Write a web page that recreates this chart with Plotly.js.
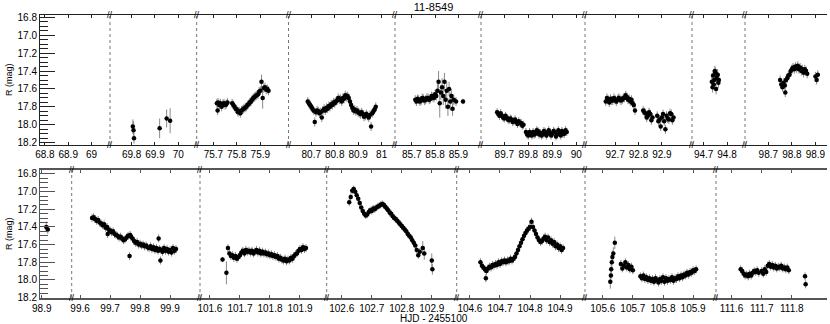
<!DOCTYPE html>
<html>
<head>
<meta charset="utf-8">
<script src="https://cdn.plot.ly/plotly-3.0.1.min.js"></script>
<style>
  html, body { margin: 0; padding: 0; background: #fff; }
  #chart { width: 830px; height: 324px; }
</style>
</head>
<body>
<div id="chart"></div>
<script>
// Light curve of 11-8549, R magnitude vs HJD - 2455100, broken time axis.
// Points are [t, mag] or [t, mag, err]; err falls back to the segment default.

// ---- top panel data ----
const s69 = [[69.805,18.02,0.08],[69.808,18.06,0.1],[69.81,18.15,0.06],[69.92,18.04,0.11],[69.95,17.93,0.1],[69.965,17.955,0.14]];
const s75 = [[75.715,17.76],[75.718,17.84],[75.72,17.75],[75.725,17.78],[75.73,17.76],[75.735,17.80],[75.74,17.77],[75.745,17.76],[75.75,17.78],[75.755,17.77],[75.76,17.75],
  [75.78,17.76],[75.785,17.78],[75.79,17.80],[75.795,17.82],[75.80,17.83],[75.805,17.86],[75.81,17.85],[75.815,17.87],[75.82,17.84],[75.825,17.83],[75.83,17.82],[75.835,17.81],[75.84,17.80],[75.845,17.78],
  [75.85,17.77],[75.855,17.75],[75.86,17.74],[75.865,17.72],[75.87,17.70],[75.875,17.69],[75.88,17.68],[75.885,17.67],[75.89,17.66],[75.895,17.63],[75.90,17.62],[75.905,17.52,0.08],[75.91,17.70,0.12],[75.915,17.59],[75.92,17.58],[75.925,17.61],[75.93,17.60],[75.935,17.62]];
const s80 = [[80.685,17.74],[80.69,17.76],[80.695,17.78],[80.70,17.80],[80.705,17.82],[80.71,17.84],[80.715,17.97],[80.72,17.86],[80.725,17.84],[80.73,17.85],[80.735,17.87],[80.74,17.86],[80.745,17.92],[80.75,17.84],[80.755,17.82],
  [80.76,17.84],[80.765,17.81],[80.77,17.82],[80.775,17.79],[80.78,17.80],[80.785,17.77],[80.79,17.78],[80.795,17.75],[80.80,17.76],[80.805,17.74],[80.81,17.73],[80.815,17.70],[80.82,17.72],[80.825,17.71],[80.83,17.74],
  [80.835,17.70],[80.84,17.71],[80.845,17.67],[80.85,17.69],[80.855,17.68],[80.86,17.70],[80.865,17.74],[80.87,17.78],[80.875,17.81],[80.88,17.84],[80.885,17.83],[80.89,17.85],[80.895,17.84],[80.90,17.86],
  [80.905,17.87],[80.91,17.88],[80.915,17.86],[80.92,17.88],[80.925,17.91],[80.93,17.90],[80.935,17.88],[80.94,17.90],[80.945,17.92],[80.95,17.89],[80.955,18.02],[80.96,17.87],[80.965,17.85],[80.97,17.83],[80.975,17.80]];
const s85 = [[85.715,17.72],[85.72,17.74],[85.725,17.71],[85.73,17.72],[85.735,17.74],[85.74,17.73],[85.745,17.70],[85.75,17.71],[85.755,17.73],[85.76,17.72],[85.765,17.70],[85.77,17.70],[85.775,17.72],[85.78,17.71],[85.785,17.68],
  [85.79,17.69],[85.795,17.70],[85.80,17.66],[85.805,17.68],[85.81,17.62,0.08],[85.815,17.52,0.12],[85.82,17.76,0.16],[85.825,17.64,0.08],[85.83,17.58,0.1],[85.835,17.68,0.1],[85.84,17.52,0.1],[85.845,17.72,0.1],
  [85.85,17.62,0.1],[85.855,17.80,0.1],[85.86,17.60,0.08],[85.865,17.74,0.1],[85.87,17.68,0.08],[85.875,17.82,0.08],[85.88,17.72,0.06],[85.89,17.74,0.05],[85.92,17.74,0.03]];
const s89 = [[89.67,17.86],[89.675,17.88],[89.68,17.90],[89.685,17.87],[89.69,17.90],[89.695,17.92],[89.70,17.93],[89.705,17.90],[89.71,17.92],[89.715,17.94],[89.72,17.95],[89.725,17.93],[89.73,17.94],[89.735,17.97],
  [89.74,17.96],[89.745,17.94],[89.75,17.97],[89.755,17.99],[89.76,17.96],[89.765,17.98],[89.77,17.98],[89.775,18.01],[89.78,18.00],[89.79,18.08],[89.795,18.11],[89.80,18.12],[89.805,18.08],[89.81,18.10],[89.815,18.12],
  [89.82,18.08],[89.825,18.11],[89.83,18.10],[89.835,18.06],[89.84,18.07],[89.845,18.11],[89.85,18.09],[89.855,18.12],[89.86,18.11],[89.865,18.07],[89.87,18.08],[89.875,18.12],[89.88,18.10],[89.885,18.06],
  [89.89,18.09],[89.895,18.12],[89.90,18.10],[89.905,18.07],[89.91,18.08],[89.915,18.13],[89.92,18.11],[89.925,18.06],[89.93,18.09],[89.935,18.12],[89.94,18.07],[89.945,18.10],[89.95,18.10],[89.955,18.06],[89.96,18.08]];
const s92 = [[92.66,17.74],[92.665,17.70],[92.67,17.72],[92.675,17.75],[92.68,17.71],[92.685,17.73],[92.69,17.73],[92.695,17.70],[92.70,17.72],[92.705,17.74],[92.71,17.72],[92.715,17.70],[92.72,17.71],[92.725,17.73],
  [92.73,17.72],[92.735,17.70],[92.74,17.70],[92.745,17.67],[92.75,17.69],[92.755,17.72],[92.76,17.71],[92.765,17.74],[92.77,17.72],[92.775,17.76],[92.78,17.78],[92.785,17.84],
  [92.82,17.84],[92.825,17.86],[92.83,17.87],[92.835,17.92],[92.84,17.90],[92.845,17.86],[92.85,17.88],[92.855,17.95],[92.86,17.92],
  [92.88,17.90],[92.885,17.96],[92.89,17.94],[92.895,18.02],[92.90,17.92],[92.905,17.88],[92.91,17.96],[92.915,18.05],[92.92,17.90],[92.925,17.93],[92.93,17.94],[92.935,17.87],[92.94,17.88],[92.945,17.95],[92.95,17.92]];
const s94 = [[94.735,17.52],[94.738,17.58],[94.74,17.45],[94.743,17.55],[94.745,17.50],[94.748,17.40],[94.75,17.42],[94.753,17.60],[94.755,17.48],[94.758,17.44],[94.76,17.44],[94.763,17.53],[94.765,17.50]];
const s98 = [[98.75,17.50],[98.755,17.55],[98.76,17.58],[98.765,17.53],[98.77,17.56],[98.772,17.64],[98.775,17.50],[98.78,17.48],[98.785,17.45],[98.79,17.44],[98.795,17.40],[98.80,17.38],[98.805,17.36],
  [98.81,17.38],[98.815,17.35],[98.82,17.37],[98.825,17.34],[98.83,17.38],[98.835,17.36],[98.84,17.40],[98.845,17.38],[98.85,17.42],[98.855,17.38],[98.86,17.40],[98.865,17.43],[98.90,17.46],[98.905,17.50],[98.91,17.44]];

// ---- bottom panel data ----
const b98 = [[98.915,17.40,0.06],[98.92,17.43,0.05]];
const b99 = [[99.64,17.30],[99.645,17.29],[99.65,17.31],[99.655,17.33],[99.66,17.32],[99.665,17.35],[99.67,17.36],[99.675,17.38],[99.68,17.37],[99.685,17.41],[99.69,17.40],[99.692,17.48],[99.695,17.43],
  [99.70,17.44],[99.705,17.46],[99.71,17.45],[99.715,17.48],[99.72,17.49],[99.725,17.50],[99.73,17.52],[99.735,17.51],[99.74,17.53],[99.745,17.55],[99.75,17.54],[99.755,17.52],[99.76,17.50],[99.765,17.73],
  [99.767,17.49],[99.77,17.51],[99.775,17.53],[99.78,17.56],[99.785,17.58],[99.79,17.57],[99.795,17.60],[99.80,17.59],[99.805,17.61],[99.81,17.60],[99.815,17.62],[99.82,17.61],[99.825,17.63],[99.83,17.64],
  [99.835,17.62],[99.84,17.65],[99.845,17.63],[99.85,17.66],[99.855,17.64],[99.86,17.67],[99.862,17.53],[99.865,17.65],[99.868,17.78],[99.87,17.66],[99.875,17.68],[99.88,17.64],[99.885,17.67],[99.89,17.65],
  [99.895,17.68],[99.90,17.66],[99.905,17.69],[99.91,17.64],[99.915,17.67],[99.92,17.65]];
const b101 = [[101.642,17.77,0.03],[101.655,17.92,0.13],[101.66,17.64],[101.665,17.70],[101.67,17.73],[101.675,17.72],[101.68,17.75],[101.685,17.73],[101.69,17.76],[101.695,17.74],[101.70,17.72],
  [101.705,17.69],[101.71,17.67],[101.715,17.70],[101.72,17.66],[101.725,17.68],[101.73,17.67],[101.735,17.69],[101.74,17.67],[101.745,17.70],[101.75,17.68],[101.755,17.66],[101.76,17.69],[101.765,17.67],
  [101.77,17.70],[101.775,17.68],[101.78,17.70],[101.785,17.69],[101.79,17.71],[101.795,17.70],[101.80,17.72],[101.805,17.71],[101.81,17.73],[101.815,17.72],[101.82,17.74],[101.825,17.73],[101.83,17.76],
  [101.835,17.75],[101.84,17.77],[101.845,17.78],[101.85,17.76],[101.855,17.79],[101.86,17.77],[101.865,17.78],[101.87,17.75],[101.875,17.76],[101.88,17.73],[101.885,17.71],[101.89,17.70],[101.895,17.67],
  [101.90,17.65],[101.905,17.66],[101.91,17.63],[101.915,17.65],[101.92,17.64]];
const b102 = [[102.625,17.12],[102.63,17.06],[102.635,16.99],[102.64,16.97],[102.645,17.00],[102.65,17.04],[102.655,17.08],[102.66,17.13],[102.665,17.18],[102.67,17.22],[102.675,17.25],[102.68,17.27],
  [102.685,17.26],[102.69,17.23],[102.695,17.21],[102.70,17.22],[102.705,17.19],[102.71,17.20],[102.715,17.18],[102.72,17.17],[102.725,17.16],[102.73,17.15],[102.735,17.14],[102.74,17.15],[102.745,17.17],
  [102.75,17.19],[102.755,17.21],[102.76,17.24],[102.765,17.25],[102.77,17.28],[102.775,17.30],[102.78,17.31],[102.785,17.33],[102.79,17.35],[102.795,17.37],[102.80,17.39],[102.805,17.41],[102.81,17.43],
  [102.815,17.45],[102.82,17.48],[102.825,17.50],[102.83,17.52],[102.835,17.55],[102.84,17.58],[102.845,17.61],[102.85,17.66],[102.855,17.72],[102.86,17.68],[102.87,17.64,0.08],[102.875,17.70,0.07],
  [102.90,17.78,0.08],[102.902,17.88,0.06]];
const b104 = [[104.635,17.80],[104.64,17.84],[104.645,17.86],[104.65,17.88],[104.653,17.98],[104.655,17.90],[104.66,17.87],[104.665,17.85],[104.67,17.86],[104.675,17.83],[104.68,17.84],[104.685,17.82],
  [104.69,17.83],[104.695,17.80],[104.70,17.82],[104.705,17.79],[104.71,17.80],[104.715,17.78],[104.72,17.80],[104.725,17.78],[104.73,17.79],[104.735,17.76],[104.74,17.78],[104.745,17.76],[104.75,17.74],
  [104.755,17.70],[104.76,17.66],[104.765,17.62],[104.77,17.58],[104.775,17.54],[104.78,17.50],[104.785,17.47],[104.79,17.44],[104.795,17.42],[104.80,17.40],[104.805,17.34],[104.81,17.40],[104.815,17.44],
  [104.82,17.48],[104.825,17.52],[104.83,17.55],[104.835,17.57],[104.84,17.56],[104.845,17.53],[104.85,17.51],[104.855,17.55],[104.86,17.52],[104.865,17.57],[104.87,17.55],[104.875,17.59],[104.88,17.57],
  [104.885,17.62],[104.89,17.60],[104.895,17.64],[104.90,17.62],[104.905,17.66],[104.91,17.64]];
const b105 = [[105.625,18.02,0.08],[105.627,17.95,0.08],[105.628,17.88,0.08],[105.63,17.80,0.08],[105.632,17.74,0.07],[105.635,17.70,0.07],[105.64,17.58,0.07],
  [105.66,17.82],[105.665,17.87],[105.67,17.84],[105.675,17.80],[105.68,17.86],[105.685,17.83],[105.69,17.88],[105.695,17.85],[105.70,17.89],
  [105.725,17.96],[105.73,17.98],[105.735,17.95],[105.74,17.99],[105.745,17.97],[105.75,18.00],[105.755,17.98],[105.76,18.01],[105.765,17.99],[105.77,18.02],[105.775,17.98],[105.78,18.00],[105.785,18.03],
  [105.79,17.99],[105.795,18.01],[105.80,17.97],[105.805,18.02],[105.81,17.98],[105.815,18.01],[105.82,17.99],[105.825,18.00],[105.83,17.97],[105.835,18.01],[105.84,17.98],[105.845,17.99],[105.85,17.96],
  [105.855,17.98],[105.86,17.95],[105.865,17.97],[105.87,17.94],[105.875,17.95],[105.88,17.92],[105.885,17.94],[105.89,17.91],[105.895,17.92],[105.90,17.89],[105.905,17.90],[105.91,17.88]];
const b111 = [[111.63,17.88],[111.635,17.90],[111.64,17.93],[111.645,17.95],[111.65,17.94],[111.655,17.96],[111.66,17.93],[111.665,17.95],[111.67,17.92],[111.675,17.90],[111.68,17.91],[111.685,17.89],
  [111.69,17.92],[111.70,17.90],[111.705,17.93],[111.71,17.88],[111.715,17.91],[111.72,17.84],[111.725,17.82],[111.73,17.85],[111.735,17.83],[111.74,17.86],[111.745,17.84],[111.75,17.87],[111.755,17.85],
  [111.76,17.86],[111.765,17.84],[111.77,17.87],[111.775,17.86],[111.78,17.88],[111.785,17.86],[111.79,17.89],[111.844,17.96],[111.846,18.05]];

// ---- axis segments ----
const TOP_RANGES = [[68.779,69.079],[69.707,70.079],[75.629,76.02],[80.603,81.057],[85.628,85.997],[89.603,90.036],[92.571,93.029],[94.65,94.877],[98.601,98.949]];
const TOP_TICKS = [[68.8,68.9,69],[69.8,69.9,70],[75.7,75.8,75.9],[80.7,80.8,80.9,81],[85.7,85.8,85.9],[89.7,89.8,89.9,90],[92.7,92.8,92.9],[94.7,94.8],[98.7,98.8,98.9]];
const TOP_DATA = [[], s69, s75, s80, s85, s89, s92, s94, s98];
const TOP_ERR = [0, 0.08, 0.05, 0.05, 0.05, 0.045, 0.05, 0.06, 0.05];

const BOT_RANGES = [[98.894,99.0],[99.572,100.0],[101.567,101.989],[102.55,102.983],[104.556,104.983],[105.541,105.976],[111.548,111.917]];
const BOT_TICKS = [[98.9],[99.6,99.7,99.8,99.9],[101.6,101.7,101.8,101.9],[102.6,102.7,102.8,102.9],[104.6,104.7,104.8,104.9],[105.6,105.7,105.8,105.9],[111.6,111.7,111.8]];
const BOT_DATA = [b98, b99, b101, b102, b104, b105, b111];
const BOT_ERR = [0.05, 0.045, 0.045, 0.04, 0.045, 0.045, 0.045];

// pixel edges of the segments (plot area spans x = 40..827)
const PX_L = 40, PX_W = 787;
const TOP_EDGES = [40, 110, 196.7, 288.5, 395, 481, 585, 692, 745, 827];
const BOT_EDGES = [40, 71.7, 200, 326.7, 456.7, 585, 716, 827];
const TOP_DOM = [0.5406, 1];
const BOT_DOM = [0, 0.4523];

const FONT = { family: 'Liberation Sans, Arial, sans-serif', size: 10, color: '#000' };

const layout = {
  width: 830, height: 324,
  margin: { l: 40, r: 3, t: 15, b: 26 },
  paper_bgcolor: '#fff', plot_bgcolor: '#fff',
  font: FONT,
  showlegend: false,
  title: { text: '11-8549', font: { ...FONT, size: 11 }, x: 0.5, xref: 'paper', y: 1 - 7.5 / 324, yref: 'container', yanchor: 'middle' },
  shapes: [],
  annotations: [],
};

const traces = [];
const frac = (px) => (px - PX_L) / PX_W;

function yAxisDef(range, dom, anchor, lineC, extra) {
  return {
    domain: dom, range: range, anchor: anchor,
    showgrid: false, zeroline: false,
    showline: true, linecolor: lineC, linewidth: 1,
    ticks: 'inside', ticklen: 15, tickcolor: lineC, dtick: 0.2, tick0: 0,
    tickformat: '.1f', tickfont: FONT,
    minor: { dtick: 0.05, ticks: 'inside', ticklen: 8, tickcolor: lineC },
    ...extra,
  };
}

function addPanel(p) {
  const yRef = p.yKey.replace('axis', '');
  p.ranges.forEach((rg, i) => {
    const n = p.firstIdx + i;
    const xKey = n === 1 ? 'xaxis' : 'xaxis' + n;
    const xRef = n === 1 ? 'x' : 'x' + n;
    layout[xKey] = {
      domain: [frac(p.edges[i]), frac(p.edges[i + 1])],
      range: rg, anchor: yRef,
      showgrid: false, zeroline: false,
      showline: true, linecolor: p.lineC, linewidth: p.lineW, mirror: 'ticks',
      ticks: 'inside', ticklen: 3, tickcolor: p.lineC,
      tickmode: 'array', tickvals: p.ticks[i], ticktext: p.ticks[i].map(String),
      tickfont: FONT,
    };
    const pts = p.data[i];
    // an empty segment still needs a trace so its axes get drawn
    traces.push({
      type: 'scatter', mode: 'markers',
      x: pts.map(q => q[0]), y: pts.map(q => q[1]),
      xaxis: xRef, yaxis: yRef,
      marker: { color: '#000', size: p.mSize },
      error_y: { type: 'data', array: pts.map(q => q[2] !== undefined ? q[2] : p.errs[i]), color: '#8a8a8a', thickness: 1, width: 0 },
      hoverinfo: 'x+y',
    });
    if (i > 0) {
      // dotted break line and "//" marks on the frame
      const xf = frac(p.edges[i]);
      layout.shapes.push({ type: 'line', xref: 'paper', yref: 'paper', x0: xf, x1: xf, y0: p.yDom[0], y1: p.yDom[1],
        line: { color: '#777', width: 1, dash: 'dot' } });
      [p.yDom[0], p.yDom[1]].forEach(yy => layout.annotations.push({
        xref: 'paper', yref: 'paper', x: xf, y: yy, text: '//', showarrow: false,
        font: { ...FONT, size: 9 }, xanchor: 'center', yanchor: 'middle',
      }));
    }
  });
  const leftAnchor = p.firstIdx === 1 ? 'x' : 'x' + p.firstIdx;
  const rightAnchor = 'x' + (p.firstIdx + p.ranges.length - 1);
  layout[p.yKey] = yAxisDef(p.yRange, p.yDom, leftAnchor, p.lineC, {});
  layout[p.yRightKey] = yAxisDef(p.yRange, p.yDom, rightAnchor, p.lineC, { overlaying: yRef, side: 'right', showticklabels: false });
  layout.annotations.push({
    xref: 'paper', yref: 'paper', x: 0, y: (p.yDom[0] + p.yDom[1]) / 2, xshift: -31,
    xanchor: 'center', yanchor: 'middle',
    text: 'R (mag)', textangle: -90, showarrow: false, font: { ...FONT, size: 9 },
  });
}

addPanel({ edges: TOP_EDGES, ranges: TOP_RANGES, ticks: TOP_TICKS, data: TOP_DATA, errs: TOP_ERR, firstIdx: 1,
  yKey: 'yaxis', yRange: [18.226, 16.774], yDom: TOP_DOM, yRightKey: 'yaxis3', lineC: '#222', lineW: 1, mSize: 4.5 });
addPanel({ edges: BOT_EDGES, ranges: BOT_RANGES, ticks: BOT_TICKS, data: BOT_DATA, errs: BOT_ERR, firstIdx: 10,
  yKey: 'yaxis2', yRange: [18.205, 16.755], yDom: BOT_DOM, yRightKey: 'yaxis4', lineC: '#555', lineW: 1.5, mSize: 4.5 });

layout.annotations.push({
  xref: 'paper', yref: 'paper', x: 0.5, y: 0, yshift: -20.5,
  xanchor: 'center', yanchor: 'middle',
  text: 'HJD - 2455100', showarrow: false, font: FONT,
});

Plotly.newPlot('chart', traces, layout, { displayModeBar: false, staticPlot: true });
</script>
</body>
</html>
